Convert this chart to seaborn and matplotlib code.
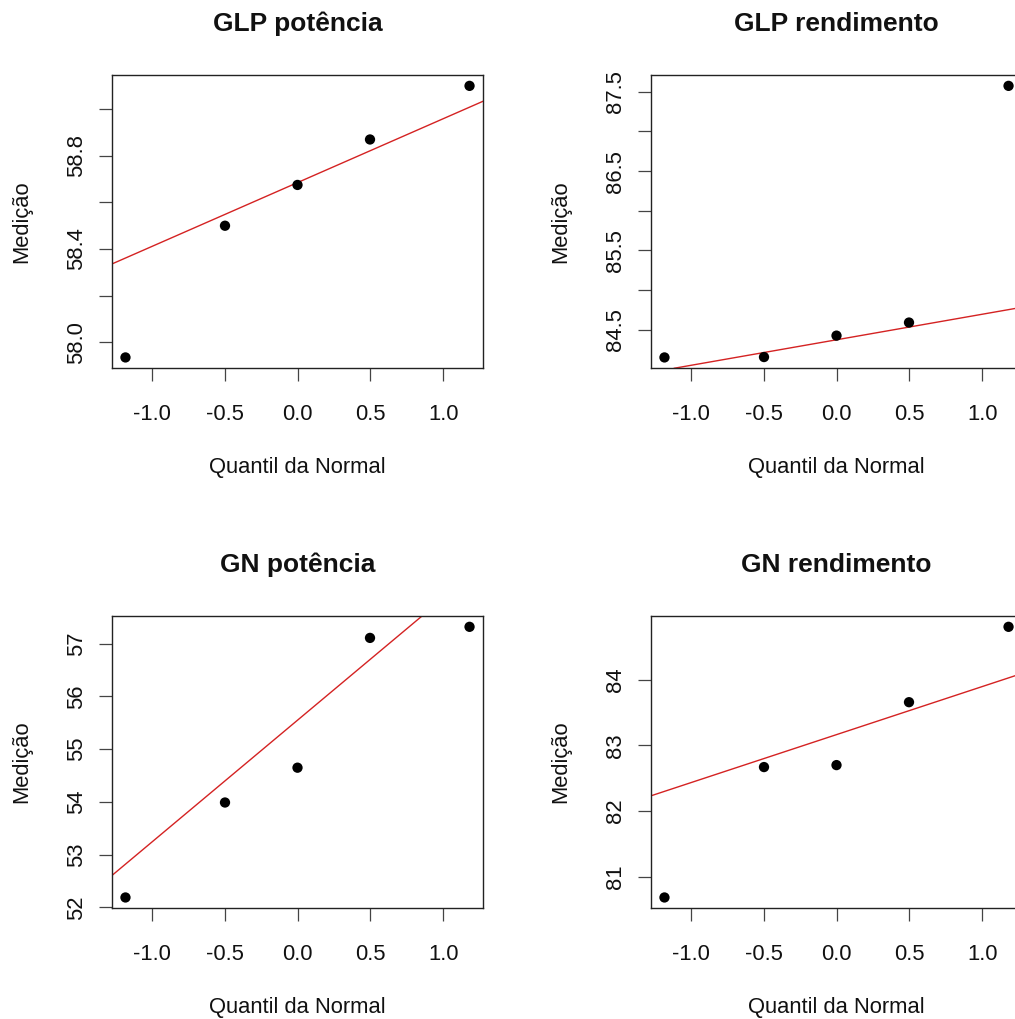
import matplotlib
matplotlib.use("Agg")
import matplotlib.pyplot as plt
import numpy as np
import pandas as pd
import seaborn as sns
from statistics import NormalDist

# ---------------- data ----------------
titles = ["GLP potência", "GLP rendimento", "GN potência", "GN rendimento"]
glp_potencia = [57.935, 58.50, 58.675, 58.87, 59.10]
glp_rendimento = [84.15, 84.155, 84.425, 84.59, 87.575]
gn_potencia = [52.19, 53.99, 54.65, 57.11, 57.32]
gn_rendimento = [80.68, 82.67, 82.70, 83.66, 84.81]

x_ticks = [-1.0, -0.5, 0.0, 0.5, 1.0]
x_ticklabels = ["-1.0", "-0.5", "0.0", "0.5", "1.0"]

y_ticks_glp_pot = [58.0, 58.2, 58.4, 58.6, 58.8, 59.0]
y_labels_glp_pot = ["58.0", "", "58.4", "", "58.8", ""]
y_ticks_glp_ren = [84.5, 85.0, 85.5, 86.0, 86.5, 87.0, 87.5]
y_labels_glp_ren = ["84.5", "", "85.5", "", "86.5", "", "87.5"]
y_ticks_gn_pot = [52, 53, 54, 55, 56, 57]
y_labels_gn_pot = ["52", "53", "54", "55", "56", "57"]
y_ticks_gn_ren = [81, 82, 83, 84]
y_labels_gn_ren = ["81", "82", "83", "84"]

x_label = "Quantil da Normal"
y_label = "Medição"

series = [glp_potencia, glp_rendimento, gn_potencia, gn_rendimento]
yticks = [y_ticks_glp_pot, y_ticks_glp_ren, y_ticks_gn_pot, y_ticks_gn_ren]
ylabels = [y_labels_glp_pot, y_labels_glp_ren, y_labels_gn_pot, y_labels_gn_ren]

# ---------------- style ----------------
sns.set_theme(style="white")
plt.rcParams["font.family"] = ["Liberation Sans", "DejaVu Sans"]

W, H = 1015, 1019
fig = plt.figure(figsize=(W / 100, H / 100), dpi=100)
fig.patch.set_facecolor("white")

# axes boxes in pixels: (left, top, width, height)
boxes = [
    (111.7, 75.0, 371.6, 293.3),
    (650.7, 75.0, 371.6, 293.3),
    (111.7, 616.0, 371.6, 292.3),
    (650.7, 616.0, 371.6, 292.3),
]

nd = NormalDist()
FS = 15.8

for i, (vals, title) in enumerate(zip(series, titles)):
    l, t, w, h = boxes[i]
    ax = fig.add_axes([l / W, 1 - (t + h) / H, w / W, h / H])
    y = np.sort(np.asarray(vals, dtype=float))
    n = len(y)
    a = 3 / 8 if n <= 10 else 0.5
    pp = (np.arange(1, n + 1) - a) / (n + 1 - 2 * a)
    xq = np.array([nd.inv_cdf(p) for p in pp])
    df = pd.DataFrame({"q": xq, "v": y})

    sns.scatterplot(data=df, x="q", y="v", ax=ax, s=55, color="black",
                    edgecolor="none", zorder=3)

    # qqline through quartiles
    q1, q3 = np.quantile(y, [0.25, 0.75])
    z1, z3 = nd.inv_cdf(0.25), nd.inv_cdf(0.75)
    slope = (q3 - q1) / (z3 - z1)
    inter = q1 - slope * z1
    ax.axline((0, inter), slope=slope, color="#d42222", lw=1.0, zorder=2)

    xr = xq.max() - xq.min()
    yr = y.max() - y.min()
    ax.set_xlim(xq.min() - 0.04 * xr, xq.max() + 0.04 * xr)
    ax.set_ylim(y.min() - 0.04 * yr, y.max() + 0.04 * yr)

    ax.set_xticks(x_ticks, x_ticklabels)
    ax.set_yticks(yticks[i], ylabels[i], rotation=90, va="center")

    for sp in ax.spines.values():
        sp.set_visible(True)
        sp.set_color("#222222")
        sp.set_linewidth(1.0)

    ax.tick_params(axis="both", direction="out", length=9.4, width=0.9,
                   color="#444444", labelsize=FS, labelcolor="#111111")
    ax.tick_params(axis="x", pad=16.6, bottom=True)
    ax.tick_params(axis="y", pad=8.4, left=True)

    ax.set_xlabel(x_label, fontsize=FS, color="#111111")
    ax.set_ylabel(y_label, fontsize=FS, color="#111111")
    ax.xaxis.label.set_va("baseline")
    ax.xaxis.set_label_coords(0.5, -0.358)
    ax.yaxis.label.set_va("center")
    ax.yaxis.set_label_coords(-0.242, 0.5)

    ax.set_title(title, fontsize=FS * 1.2, fontweight="bold", color="#111111",
                 y=1.150, va="baseline", pad=0)

fig.savefig("out.png", dpi=100, facecolor="white")
